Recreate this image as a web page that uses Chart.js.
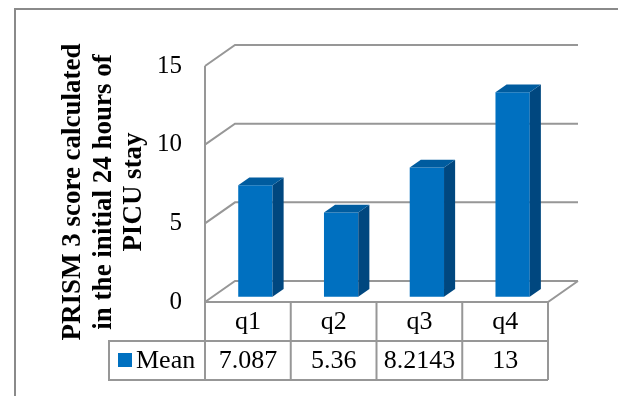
<!DOCTYPE html>
<html>
<head>
<meta charset="utf-8">
<script src="https://cdn.jsdelivr.net/npm/chart.js@4/dist/chart.umd.min.js"></script>
<style>
  html, body { margin: 0; padding: 0; background: #ffffff; }
  #wrap { width: 618px; height: 396px; position: relative; }
</style>
</head>
<body>
<div id="wrap"><canvas id="chart"></canvas></div>
<script>
// Quartiles and the mean PRISM 3 score in each
const categories = ['q1', 'q2', 'q3', 'q4'];
const seriesName = 'Mean';
const meanValues = [7.087, 5.36, 8.2143, 13];
const yTickValues = [0, 5, 10, 15];
const axisTitleLines = ['PRISM 3 score calculated', 'in the initial 24 hours of', 'PICU stay'];

// Colours
const FRONT = '#0070C0';
const TOP = '#005C9F';
const SIDE = '#00477F';
const GRID = '#979797';
const SERIF = '"Liberation Serif", "Times New Roman", serif';

// Oblique depth of the walls, and where the bars sit inside that depth
const WALL_DX = 30, WALL_DY = -21;
const BAR_FRONT = 0.25, BAR_DEPTH = 0.37;

// Walls, floor and gridlines behind the bars; 3-D faces after the bars
const frame3d = {
  id: 'frame3d',
  beforeDatasetsDraw(chart) {
    const { ctx, chartArea: a, scales: { y } } = chart;
    ctx.save();
    ctx.strokeStyle = GRID;
    ctx.lineWidth = 2;
    ctx.lineCap = 'butt';
    y.ticks.forEach(t => {
      const py = y.getPixelForValue(t.value);
      ctx.beginPath();
      ctx.moveTo(a.left, py);
      ctx.lineTo(a.left + WALL_DX, py + WALL_DY);
      ctx.lineTo(a.right + WALL_DX, py + WALL_DY);
      ctx.stroke();
    });
    // floor front and right edges
    const p0 = y.getPixelForValue(0);
    ctx.beginPath();
    ctx.moveTo(a.left, p0);
    ctx.lineTo(a.right, p0);
    ctx.lineTo(a.right + WALL_DX, p0 + WALL_DY);
    ctx.stroke();
    // vertical axis line at the front of the side wall
    ctx.beginPath();
    ctx.moveTo(a.left, y.getPixelForValue(15));
    ctx.lineTo(a.left, p0);
    ctx.stroke();
    ctx.restore();

    // shift the bar fronts into the depth of the plot
    ctx.save();
    ctx.translate(WALL_DX * BAR_FRONT, WALL_DY * BAR_FRONT);
  },
  afterDatasetsDraw(chart) {
    const { ctx } = chart;
    ctx.restore();
    const ox = WALL_DX * BAR_FRONT, oy = WALL_DY * BAR_FRONT;
    const dx = WALL_DX * BAR_DEPTH, dy = WALL_DY * BAR_DEPTH;
    chart.getDatasetMeta(0).data.forEach(bar => {
      const { x, y, base, width } = bar.getProps(['x', 'y', 'base', 'width'], true);
      const l = x - width / 2 + ox, r = x + width / 2 + ox;
      const t = y + oy, b = base + oy;
      ctx.save();
      ctx.fillStyle = SIDE;
      ctx.beginPath();
      ctx.moveTo(r, t);
      ctx.lineTo(r + dx, t + dy);
      ctx.lineTo(r + dx, b + dy);
      ctx.lineTo(r, b);
      ctx.closePath();
      ctx.fill();
      ctx.fillStyle = TOP;
      ctx.beginPath();
      ctx.moveTo(l, t);
      ctx.lineTo(l + dx, t + dy);
      ctx.lineTo(r + dx, t + dy);
      ctx.lineTo(r, t);
      ctx.closePath();
      ctx.fill();
      ctx.restore();
    });
  },
  afterDraw(chart) {
    const { ctx, chartArea: a, scales: { x } } = chart;
    const p0 = chart.scales.y.getPixelForValue(0);
    const rowSplit = 341, tableBottom = 380, legendLeft = 109;
    ctx.save();

    // data table grid
    ctx.strokeStyle = GRID;
    ctx.lineWidth = 2;
    const colW = (a.right - a.left) / categories.length;
    for (let i = 0; i <= categories.length; i++) {
      const px = a.left + i * colW;
      ctx.beginPath();
      ctx.moveTo(px, p0);
      ctx.lineTo(px, tableBottom);
      ctx.stroke();
    }
    ctx.beginPath();
    ctx.moveTo(legendLeft, rowSplit);
    ctx.lineTo(a.right, rowSplit);
    ctx.moveTo(legendLeft, tableBottom);
    ctx.lineTo(a.right, tableBottom);
    ctx.moveTo(legendLeft, rowSplit - 1);
    ctx.lineTo(legendLeft, tableBottom + 1);
    ctx.stroke();

    // table text
    ctx.fillStyle = '#000000';
    ctx.font = '26px ' + SERIF;
    ctx.textAlign = 'center';
    ctx.textBaseline = 'middle';
    categories.forEach((c, i) => {
      const cx = x.getPixelForValue(i);
      ctx.fillText(c, cx, (p0 + rowSplit) / 2 + 1);
      ctx.fillText(String(meanValues[i]), cx, (rowSplit + tableBottom) / 2 + 1);
    });

    // legend key inside the table
    ctx.fillStyle = FRONT;
    ctx.fillRect(118, 353, 14, 14);
    ctx.fillStyle = '#000000';
    ctx.textAlign = 'left';
    ctx.fillText(seriesName, 136, (rowSplit + tableBottom) / 2 + 1);

    // vertical axis title
    ctx.font = 'bold 27px ' + SERIF;
    ctx.textAlign = 'center';
    ctx.textBaseline = 'alphabetic';
    ctx.translate(0, 192);
    ctx.rotate(-Math.PI / 2);
    axisTitleLines.forEach((line, i) => {
      ctx.fillText(line, 0, 80 + i * 30.5);
    });
    ctx.restore();

    // outer chart border
    ctx.save();
    ctx.strokeStyle = '#8a8a8a';
    ctx.lineWidth = 2;
    ctx.strokeRect(15, 9, 1200, 1200);
    ctx.restore();
  }
};

new Chart(document.getElementById('chart'), {
  type: 'bar',
  data: {
    labels: categories,
    datasets: [{
      label: seriesName,
      data: meanValues,
      backgroundColor: FRONT,
      borderWidth: 0,
      barPercentage: 0.4,
      categoryPercentage: 1.0,
      clip: false
    }]
  },
  options: {
    responsive: true,
    maintainAspectRatio: false,
    animation: false,
    events: [],
    layout: { padding: { left: 0, top: 66, right: 70, bottom: 94 } },
    plugins: {
      legend: { display: false },
      tooltip: { enabled: false }
    },
    scales: {
      x: { display: false },
      y: {
        min: 0,
        max: 15,
        afterBuildTicks(scale) {
          scale.ticks = yTickValues.map(v => ({ value: v }));
        },
        afterFit(scale) { scale.width = 205; },
        border: { display: false },
        grid: { display: false, drawTicks: false },
        ticks: {
          padding: 23,
          color: '#000000',
          font: { family: SERIF, size: 25 }
        }
      }
    }
  },
  plugins: [frame3d]
});
</script>
</body>
</html>
